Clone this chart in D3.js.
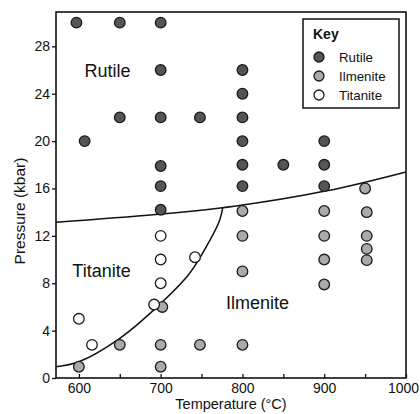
<!DOCTYPE html>
<html>
<head>
<meta charset="utf-8">
<script src="https://d3js.org/d3.v7.min.js"></script>
<style>
  html, body { margin: 0; padding: 0; background: #fff; }
  svg { display: block; font-family: "Liberation Sans", Arial, sans-serif; }
</style>
</head>
<body>
<svg id="chart" width="420" height="414"></svg>
<script>
// ── Data (T in °C, P in kbar) ──
const rutile = [
  [597, 30], [650, 30], [700, 30], [700, 26], [650, 22], [700, 22], [748, 22],
  [607, 20], [700, 17.9], [700, 16.2], [700, 14.2],
  [800, 26], [800, 24], [800, 22], [800, 20], [800, 18], [800, 16.2],
  [850, 18], [900, 20], [900, 18], [900, 16.2]
];
const ilmenite = [
  [600, 0.95], [650, 2.8], [700, 2.8], [700, 0.95], [702, 6], [748, 2.8],
  [800, 2.8], [800, 9], [800, 12], [800, 14.1],
  [900, 14.1], [900, 12], [900, 10], [900, 7.9],
  [950, 16], [952, 14], [952, 12], [952, 10.9], [952, 9.95]
];
const titanite = [
  [600, 5], [616, 2.8], [692, 6.2], [700, 8], [700, 10], [700, 12], [742, 10.2]
];

// phase boundaries
const rutileBoundary = [[572, 13.15], [694, 13.8], [790, 14.5], [903, 15.8], [1000, 17.4]];
const titaniteBoundary = [[572, 0.95], [600, 1.37], [650, 3.35], [694, 5.9], [735, 8.8], [760, 11.6], [772, 13.3], [776, 14.4]];

const xTicks = [600, 650, 700, 750, 800, 850, 900, 950, 1000];
const yTicks = [0, 4, 8, 12, 16, 20, 24, 28];

const fieldLabels = [
  { name: 'Rutile', t: 607, p: 25.4 },
  { name: 'Titanite', t: 592, p: 8.5 },
  { name: 'Ilmenite', t: 780, p: 5.8 }
];
const keyItems = [
  { name: 'Rutile', fill: '#555' },
  { name: 'Ilmenite', fill: '#aaa' },
  { name: 'Titanite', fill: '#fff' }
];

// ── Layout ──
const M = { left: 56, top: 12, right: 406, bottom: 378 };
const x = d3.scaleLinear().domain([572, 1000]).range([M.left, M.right]);
const y = d3.scaleLinear().domain([0, 30.9]).range([M.bottom, M.top]);

const svg = d3.select('#chart');

// axes
svg.append('g').attr('transform', `translate(0,${M.bottom})`)
  .call(d3.axisBottom(x).tickValues(xTicks).tickSize(-4).tickSizeOuter(0).tickPadding(5)
    .tickFormat(d => d % 100 === 0 ? d : ''))
  .call(g => g.select('.domain').remove())
  .call(g => g.selectAll('line').attr('stroke', '#111').attr('stroke-width', 1.3))
  .call(g => g.selectAll('text').attr('font-size', 14).attr('fill', '#111').attr('font-family', null)
    .attr('dx', d => d === 1000 ? -3 : 0));

svg.append('g').attr('transform', `translate(${M.left},0)`)
  .call(d3.axisLeft(y).tickValues(yTicks).tickSize(4).tickSizeOuter(0).tickPadding(2))
  .call(g => g.select('.domain').remove())
  .call(g => g.selectAll('line').attr('stroke', '#111').attr('stroke-width', 1.3))
  .call(g => g.selectAll('text').attr('font-size', 14).attr('fill', '#111').attr('font-family', null));

// frame
svg.append('rect').attr('x', M.left).attr('y', M.top)
  .attr('width', M.right - M.left).attr('height', M.bottom - M.top)
  .attr('fill', 'none').attr('stroke', '#111').attr('stroke-width', 1.6);

// axis titles
svg.append('text').attr('x', (M.left + M.right) / 2).attr('y', 409).attr('text-anchor', 'middle')
  .attr('font-size', 14.5).attr('fill', '#111').text('Temperature (°C)');
svg.append('text').attr('transform', 'translate(25,211) rotate(-90)').attr('text-anchor', 'middle')
  .attr('font-size', 15.5).attr('fill', '#111').text('Pressure (kbar)');

// boundaries
const line = d3.line().x(d => x(d[0])).y(d => y(d[1])).curve(d3.curveCatmullRom.alpha(0.5));
[rutileBoundary, titaniteBoundary].forEach(b => {
  svg.append('path').attr('d', line(b)).attr('fill', 'none')
    .attr('stroke', '#111').attr('stroke-width', 1.5);
});

// points
const series = [[rutile, '#555'], [ilmenite, '#aaa'], [titanite, '#fff']];
series.forEach(([data, fill]) => {
  svg.append('g').selectAll('circle').data(data).enter().append('circle')
    .attr('cx', d => x(d[0])).attr('cy', d => y(d[1])).attr('r', 5.3)
    .attr('fill', fill).attr('stroke', '#1a1a1a').attr('stroke-width', 1.3);
});

// field names
svg.append('g').selectAll('text').data(fieldLabels).enter().append('text')
  .attr('x', d => x(d.t)).attr('y', d => y(d.p))
  .attr('font-size', 18).attr('fill', '#111').text(d => d.name);

// ── Key ──
const key = svg.append('g').attr('transform', 'translate(303,19)');
key.append('rect').attr('width', 96).attr('height', 89)
  .attr('fill', '#fff').attr('stroke', '#111').attr('stroke-width', 1.5);
key.append('text').attr('x', 10).attr('y', 20).attr('font-size', 14).attr('font-weight', 700)
  .attr('fill', '#111').text('Key');
const item = key.selectAll('.item').data(keyItems).enter().append('g')
  .attr('transform', (d, i) => `translate(16,${38 + i * 19})`);
item.append('circle').attr('r', 5).attr('fill', d => d.fill)
  .attr('stroke', '#1a1a1a').attr('stroke-width', 1.3);
item.append('text').attr('x', 20).attr('y', 4.6).attr('font-size', 13.3)
  .attr('fill', '#111').text(d => d.name);
</script>
</body>
</html>
